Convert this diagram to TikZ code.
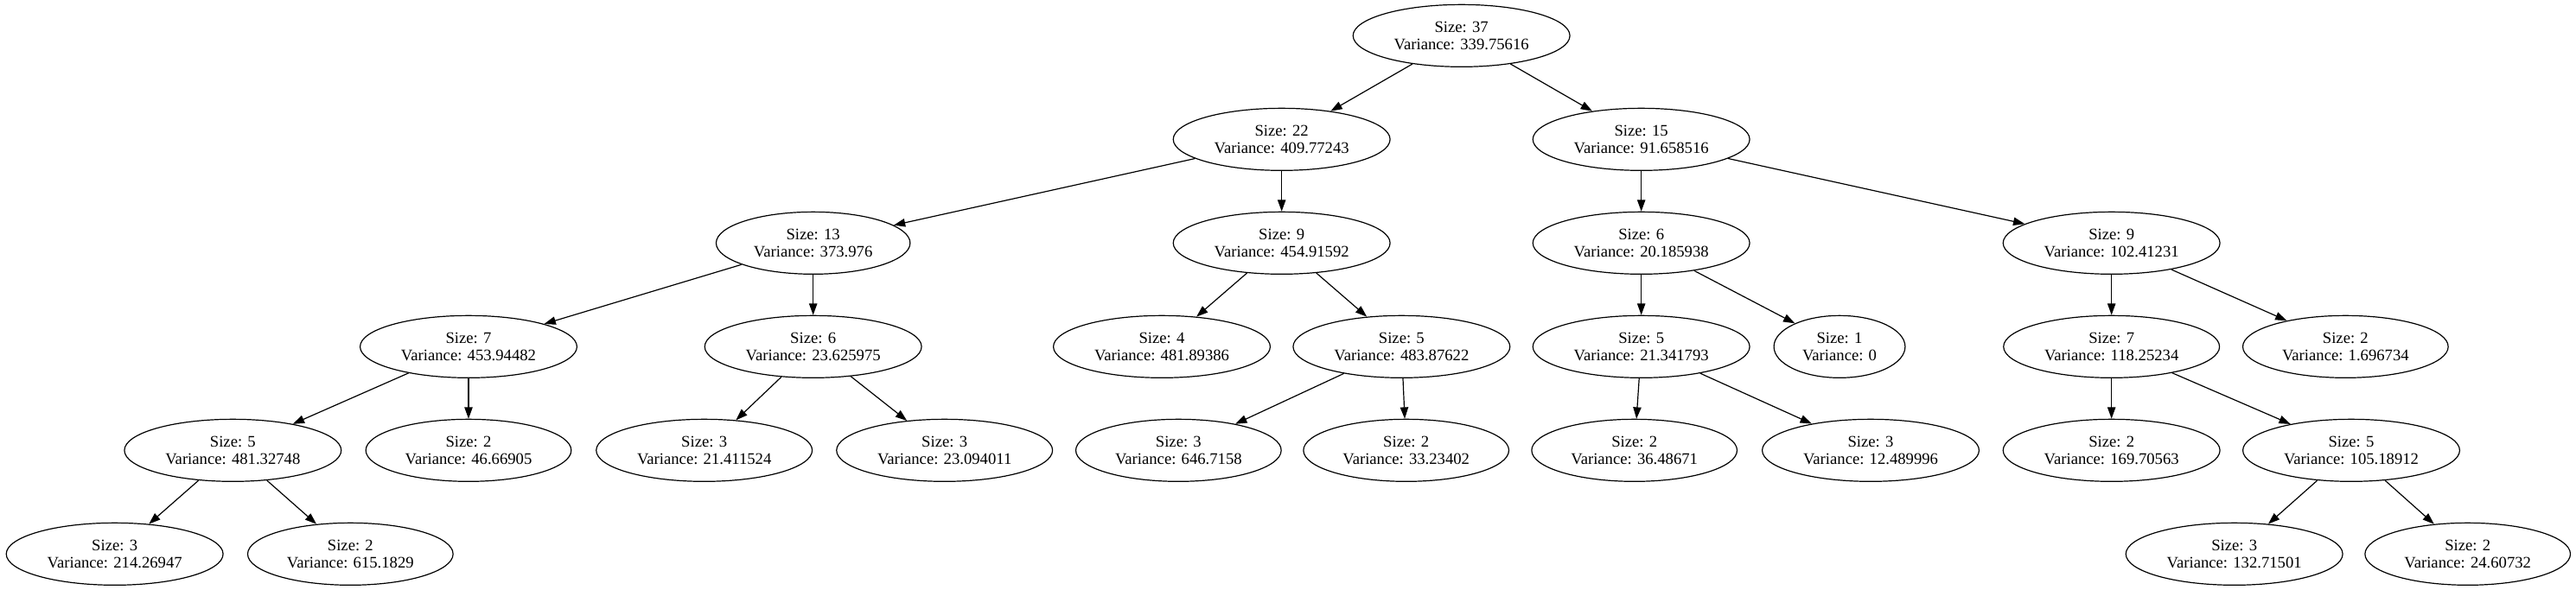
\documentclass[tikz,border=0pt]{standalone}
\usepackage{fontspec}
\setmainfont{Liberation Serif}
\usetikzlibrary{arrows.meta,shapes.geometric}

\begin{document}
\begin{tikzpicture}[x=1pt, y=1pt, >={Triangle[length=10pt,width=7pt]},
    split/.style={draw, ellipse, line width=0.9pt, inner xsep=8pt, inner ysep=2pt,
        minimum height=54pt, align=center, font=\fontsize{14}{14.5}\selectfont},
    link/.style={->, line width=0.9pt}]

    \useasboundingbox (0,0) rectangle (2235,512);

    % level 0 and 1
    \node[split] (root) at (1268,481) {Size: 37\\Variance: 339.75616};
    \node[split] (L) at (1112,391) {Size: 22\\Variance: 409.77243};
    \node[split] (R) at (1424,391) {Size: 15\\Variance: 91.658516};

    % level 2
    \node[split] (LL) at (705.5,301) {Size: 13\\Variance: 373.976};
    \node[split] (LR) at (1112,301) {Size: 9\\Variance: 454.91592};
    \node[split] (RL) at (1424,301) {Size: 6\\Variance: 20.185938};
    \node[split] (RR) at (1832,301) {Size: 9\\Variance: 102.41231};

    % level 3
    \node[split] (LLL) at (406.5,211) {Size: 7\\Variance: 453.94482};
    \node[split] (LLR) at (705.5,211) {Size: 6\\Variance: 23.625975};
    \node[split] (LRL) at (1008,211) {Size: 4\\Variance: 481.89386};
    \node[split] (LRR) at (1216,211) {Size: 5\\Variance: 483.87622};
    \node[split] (RLL) at (1424,211) {Size: 5\\Variance: 21.341793};
    \node[split] (RLR) at (1596,211) {Size: 1\\Variance: 0};
    \node[split] (RRL) at (1832,211) {Size: 7\\Variance: 118.25234};
    \node[split] (RRR) at (2035,211) {Size: 2\\Variance: 1.696734};

    % level 4
    \node[split] (LLLL) at (202,121) {Size: 5\\Variance: 481.32748};
    \node[split] (LLLR) at (406.5,121) {Size: 2\\Variance: 46.66905};
    \node[split] (LLRL) at (611,121) {Size: 3\\Variance: 21.411524};
    \node[split] (LLRR) at (819.5,121) {Size: 3\\Variance: 23.094011};
    \node[split] (LRRL) at (1022.5,121) {Size: 3\\Variance: 646.7158};
    \node[split] (LRRR) at (1220,121) {Size: 2\\Variance: 33.23402};
    \node[split] (RLLL) at (1418,121) {Size: 2\\Variance: 36.48671};
    \node[split] (RLLR) at (1623,121) {Size: 3\\Variance: 12.489996};
    \node[split] (RRLL) at (1832,121) {Size: 2\\Variance: 169.70563};
    \node[split] (RRLR) at (2040,121) {Size: 5\\Variance: 105.18912};

    % level 5
    \node[split] (LLLLL) at (99.5,31) {Size: 3\\Variance: 214.26947};
    \node[split] (LLLLR) at (304,31) {Size: 2\\Variance: 615.1829};
    \node[split] (RRLRL) at (1938.5,31) {Size: 3\\Variance: 132.71501};
    \node[split] (RRLRR) at (2141,31) {Size: 2\\Variance: 24.60732};

    % edges
    \foreach \p/\c in {root/L, root/R, L/LL, L/LR, R/RL, R/RR,
        LL/LLL, LL/LLR, LR/LRL, LR/LRR, RL/RLL, RL/RLR, RR/RRL, RR/RRR,
        LLL/LLLL, LLL/LLLR, LLR/LLRL, LLR/LLRR, LRR/LRRL, LRR/LRRR,
        RLL/RLLL, RLL/RLLR, RRL/RRLL, RRL/RRLR,
        LLLL/LLLLL, LLLL/LLLLR, RRLR/RRLRL, RRLR/RRLRR}
        \draw[link] (\p) -- (\c);

\end{tikzpicture}
\end{document}
